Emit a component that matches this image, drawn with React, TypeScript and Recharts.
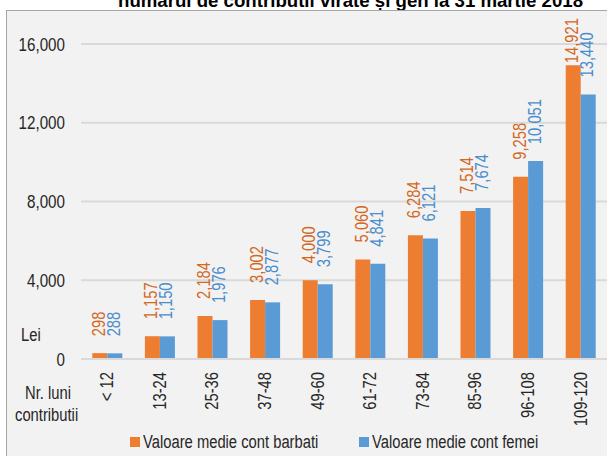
import { BarChart, Bar, XAxis, YAxis, CartesianGrid, LabelList } from 'recharts'

const categories = ['< 12', '13-24', '25-36', '37-48', '49-60', '61-72', '73-84', '85-96', '96-108', '109-120']
const barbati = [298, 1157, 2184, 3002, 4000, 5060, 6284, 7514, 9258, 14921]
const femei = [288, 1150, 1976, 2877, 3799, 4841, 6121, 7674, 10051, 13440]
const yTicks = [0, 4000, 8000, 12000, 16000]

const ORANGE = '#ED7D31'
const BLUE = '#5B9BD5'
const ORANGE_TXT = '#D2691F'
const BLUE_TXT = '#4A8DCB'
const FONT = '"Liberation Sans", Arial, sans-serif'
const INK = '#262626'
const SQUEEZE = 0.82 // the original uses a narrow face; squeeze the regular one

const data = categories.map((cat, i) => ({ cat, barbati: barbati[i], femei: femei[i] }))

const fmt = (v: number) => v.toLocaleString('en-US')

// width of a string in a narrow Arial-like face, em units
const narrowEm = (s: string) =>
  s.split('').reduce((w, ch) => {
    if (ch === ',' || ch === ' ' || ch === '.') return w + 0.278
    if (ch === '-') return w + 0.333
    if (ch === '<') return w + 0.584
    return w + 0.556
  }, 0) * SQUEEZE

const makeLabel = (color: string) => (props: any) => {
  const { x, y, width, value } = props
  const s = fmt(Number(value))
  const len = narrowEm(s) * 18
  const cx = Number(x) + Number(width) / 2 - 1
  const start = Math.max(Number(y) - 17, 18 + len)
  return (
    <text
      x={cx}
      y={start}
      transform={`rotate(-90, ${cx}, ${start})`}
      textAnchor="start"
      dominantBaseline="central"
      textLength={len}
      lengthAdjust="spacingAndGlyphs"
      fill={color}
      fontSize={18}
      fontFamily={FONT}
    >
      {s}
    </text>
  )
}

const CatTick = (props: any) => {
  const { x, payload } = props
  const top = 372
  const s = String(payload.value)
  const len = narrowEm(s) * 18
  return (
    <text
      x={x}
      y={top + len}
      transform={`rotate(-90, ${x}, ${top + len})`}
      textAnchor="start"
      dominantBaseline="central"
      textLength={len}
      lengthAdjust="spacingAndGlyphs"
      fill={INK}
      fontSize={18}
      fontFamily={FONT}
    >
      {s}
    </text>
  )
}

const ValTick = (props: any) => {
  const { x, y, payload } = props
  const s = fmt(Number(payload.value))
  const len = narrowEm(s) * 18.5
  return (
    <text
      x={Number(x) - len}
      y={y}
      textAnchor="start"
      dominantBaseline="central"
      textLength={len}
      lengthAdjust="spacingAndGlyphs"
      fill={INK}
      fontSize={18.5}
      fontFamily={FONT}
    >
      {s}
    </text>
  )
}

const txt = {
  position: 'absolute' as const,
  fontFamily: FONT,
  fontSize: 18,
  color: INK,
  lineHeight: '22px',
  whiteSpace: 'nowrap' as const,
  transform: `scaleX(${SQUEEZE})`,
  transformOrigin: 'left center',
}

export default function App() {
  return (
    <div style={{ position: 'absolute', left: 0, top: 0, width: 607, height: 456, overflow: 'hidden', background: '#fff' }}>
      <svg width={607} height={12} style={{ position: 'absolute', left: 0, top: 0 }}>
        <text x={118} y={7} textLength={465} lengthAdjust="spacingAndGlyphs" fontSize={18} fontWeight="bold" fontFamily={FONT} fill="#000">
          numarul de contributii virate și gen la 31 martie 2018
        </text>
      </svg>
      <div style={{ position: 'absolute', left: 6, top: 10, width: 620, height: 460, background: '#f2f2f2', border: '1px solid #a6a6a6' }} />
      <div style={{ position: 'absolute', left: 0, top: 0 }}>
        <BarChart width={607} height={456} data={data} margin={{ top: 44, right: 0, bottom: 0, left: 0 }} barCategoryGap="21.5%" barGap={0}>
          <CartesianGrid vertical={false} stroke="#d9d9d9" strokeWidth={2} />
          <XAxis dataKey="cat" height={97} interval={0} tickLine={false} axisLine={{ stroke: '#d9d9d9', strokeWidth: 2 }} tick={<CatTick />} />
          <YAxis
            domain={[0, 16000]}
            ticks={yTicks}
            width={81}
            axisLine={false}
            tickLine={false}
            tickSize={0}
            tickMargin={16}
            tick={<ValTick />}
          />
          <Bar dataKey="barbati" fill={ORANGE} isAnimationActive={false}>
            <LabelList dataKey="barbati" content={makeLabel(ORANGE_TXT)} />
          </Bar>
          <Bar dataKey="femei" fill={BLUE} isAnimationActive={false}>
            <LabelList dataKey="femei" content={makeLabel(BLUE_TXT)} />
          </Bar>
        </BarChart>
      </div>
      <div style={{ ...txt, left: 21, top: 324 }}>Lei</div>
      <div style={{ ...txt, left: 25, top: 382 }}>Nr. luni</div>
      <div style={{ ...txt, left: 15, top: 404 }}>contributii</div>
      <div style={{ position: 'absolute', left: 130, top: 437, width: 10, height: 10, background: ORANGE }} />
      <div style={{ ...txt, left: 143, top: 431 }}>Valoare medie cont barbati</div>
      <div style={{ position: 'absolute', left: 359, top: 437, width: 10, height: 10, background: BLUE }} />
      <div style={{ ...txt, left: 372, top: 431 }}>Valoare medie cont femei</div>
    </div>
  )
}
